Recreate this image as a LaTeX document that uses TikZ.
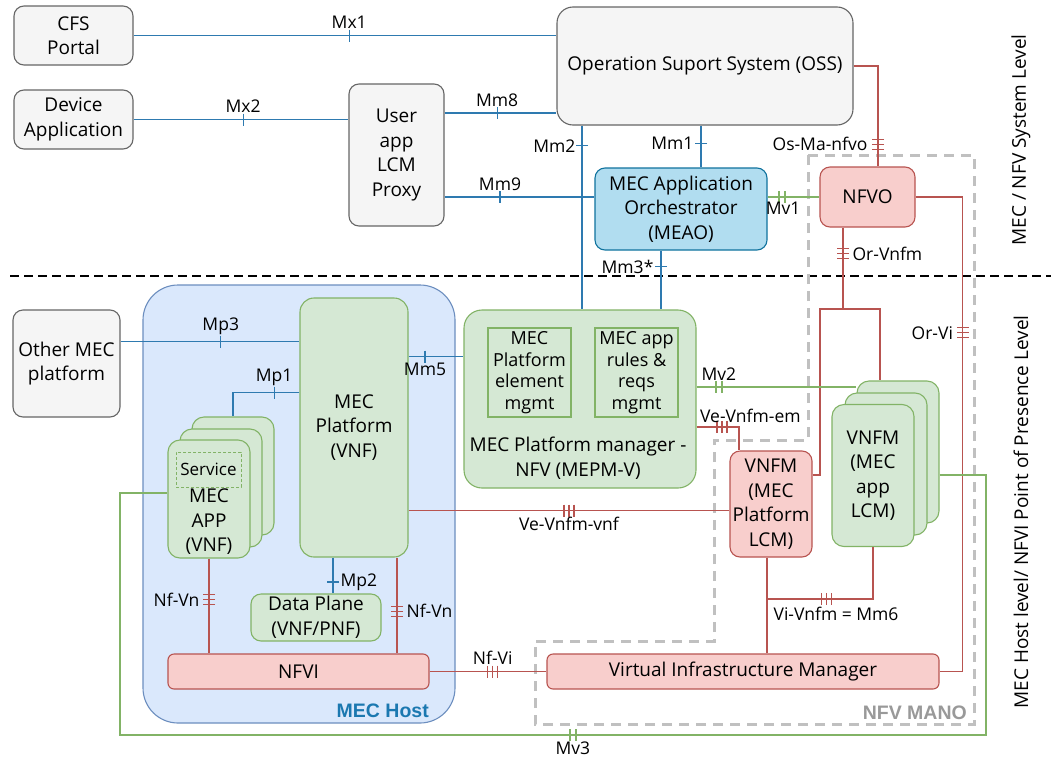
\documentclass[tikz,border=0pt]{standalone}
\usepackage{fontspec}
\setmainfont{Open Sans}
\newfontfamily\boldlabfont{Liberation Sans}

\definecolor{cGray}{HTML}{F5F5F5}
\definecolor{cGrayD}{HTML}{666666}
\definecolor{cBlue}{HTML}{2E7AB0}
\definecolor{cMeao}{HTML}{B1DDF0}
\definecolor{cMeaoD}{HTML}{10739E}
\definecolor{cHost}{HTML}{DAE8FC}
\definecolor{cHostD}{HTML}{6C8EBF}
\definecolor{cGreen}{HTML}{D5E8D4}
\definecolor{cGreenD}{HTML}{82B366}
\definecolor{cRed}{HTML}{F8CECC}
\definecolor{cRedD}{HTML}{B85450}
\definecolor{cMano}{HTML}{C0C0C0}
\definecolor{cManoT}{HTML}{999999}
\definecolor{cHostT}{HTML}{1B78B0}

\newcommand\mainfs{\fontsize{19}{24.5}\selectfont}
\newcommand\mgmtfs{\fontsize{18}{21.5}\selectfont}
\newcommand\labfs{\fontsize{17.5}{20}\selectfont}
\newcommand\areafs{\boldlabfont\bfseries\fontsize{19.5}{22}\selectfont}

\begin{document}
\begin{tikzpicture}[
  x=1pt, y=-1pt,
  box/.style={draw=cGrayD, fill=cGray, rounded corners=10pt, line width=1.1pt, align=center, inner sep=0pt, font=\mainfs},
  gbox/.style={box, draw=cGreenD, fill=cGreen},
  rbox/.style={box, draw=cRedD, fill=cRed},
  card/.style={gbox, rounded corners=12pt, minimum width=82pt},
  mgmtbox/.style={draw=cGreenD, line width=1.1pt, minimum width=83pt, minimum height=89pt, align=center, inner sep=0pt, font=\mgmtfs},
  svcbox/.style={draw=cGreenD, dash pattern=on 3pt off 2pt, line width=1pt, minimum width=65pt, minimum height=35pt, inner sep=0pt, font=\fontsize{17}{20}\selectfont},
  hostbox/.style={draw=cHostD, fill=cHost, rounded corners=35pt, line width=1.1pt, minimum width=312pt, minimum height=438pt},
  txt/.style={font=\mainfs, align=center, inner sep=0pt},
  bl/.style={draw=cBlue, line width=1.2pt},
  rd/.style={draw=cRedD, line width=1.2pt},
  gn/.style={draw=cGreenD, line width=1.2pt},
  lab/.style={font=\labfs, inner sep=1pt},
  bt/.style={sloped, draw=cBlue},
  rt/.style={sloped, draw=cRedD},
  gt/.style={sloped, draw=cGreenD},
  tk1/.pic={\draw[pic actions, line width=1.2pt] (0,-6) -- (0,6);},
  tk2/.pic={\draw[pic actions, line width=1.2pt] (-3,-6) -- (-3,6) (3,-6) -- (3,6);},
  tk3/.pic={\draw[pic actions, line width=1.2pt] (-5,-6) -- (-5,6) (0,-6) -- (0,6) (5,-6) -- (5,6);},
  levelsep/.style={draw=black, line width=2.2pt, dash pattern=on 9pt off 5pt},
  manoline/.style={draw=cMano, line width=3pt, dash pattern=on 10pt off 7pt}
]

% --- Canvas ---
\fill[white] (0,0) rectangle (1051,763);
\useasboundingbox (0,0) rectangle (1051,763);

% --- Level separator and NFV MANO area ---
\draw[levelsep] (10,276) -- (1051,276);
\draw[manoline] (808,155) -- (974,155) -- (974,724) -- (535,724) -- (535,641)
  -- (714,641) -- (714,440) -- (808,440) -- cycle;
\node[font=\areafs, text=cManoT, anchor=south east, inner sep=0pt] (manolab) at (967,720) {NFV MANO};

% --- MEC host ---
\node[hostbox] (host) at (299,504) {};
\node[font=\areafs, text=cHostT, anchor=south east, inner sep=0pt] (hostlab) at (429,718) {MEC Host};

% --- System level nodes ---
\node[box, minimum width=119pt, minimum height=59pt] (cfs) at (73.5,35.5) {CFS\\Portal};
\node[box, minimum width=119pt, minimum height=59pt] (dev) at (73.5,119.5) {Device\\Application};
\node[box, minimum width=95pt, minimum height=142pt] (proxy) at (396.5,155) {User\\app\\LCM\\Proxy};
\node[box, minimum width=296pt, minimum height=118pt, rounded corners=16pt] (oss) at (705,66) {Operation Suport System (OSS)};
\node[box, draw=cMeaoD, fill=cMeao, minimum width=172pt, minimum height=82pt] (meao) at (681,209) {MEC Application\\Orchestrator\\(MEAO)};
\node[rbox, minimum width=95pt, minimum height=60pt] (nfvo) at (867.5,197) {NFVO};

% --- Host level nodes ---
\node[box, minimum width=107pt, minimum height=107pt] (other) at (66.5,363.5) {Other MEC\\platform};
\node[gbox, rounded corners=14pt, minimum width=108pt, minimum height=259pt] (mecp) at (354,427.5) {MEC\\Platform\\(VNF)};
\node[card, minimum height=118pt] (appb) at (233,476) {};
\node[card, minimum height=118pt] (appm) at (221,488) {};
\node[card, minimum height=118pt] (appf) at (209,499) {};
\node[svcbox] (svc) at (208.5,469.5) {Service};
\node[txt] (apptxt) at (209,522) {MEC\\APP\\(VNF)};
\node[gbox, minimum width=130pt, minimum height=47pt] (dplane) at (316,617.5) {Data Plane\\(VNF/PNF)};
\node[rbox, rounded corners=6pt, minimum width=261pt, minimum height=35pt] (nfvi) at (298.5,671.5) {NFVI};

\node[gbox, rounded corners=18pt, minimum width=232pt, minimum height=178pt] (mepm) at (580,399) {};
\node[mgmtbox] (elem) at (529.5,372.5) {MEC\\Platform\\element\\mgmt};
\node[mgmtbox] (rules) at (636.5,372.5) {MEC app\\rules \&\\reqs\\mgmt};
\node[txt] (mepmtxt) at (578,458) {MEC Platform manager -\\NFV (MEPM-V)};

\node[rbox, minimum width=82pt, minimum height=106pt] (vnfmp) at (771,504) {VNFM\\(MEC\\Platform\\LCM)};
\node[card, minimum height=142pt] (vnfmab) at (898,452) {};
\node[card, minimum height=142pt] (vnfmam) at (886,464) {};
\node[card, minimum height=142pt] (vnfmaf) at (873,475.5) {VNFM\\(MEC\\app\\LCM)};
\node[rbox, rounded corners=6pt, minimum width=392pt, minimum height=35pt] (vim) at (743,671.5) {Virtual Infrastructure Manager};

% --- Level titles ---
\node[txt, rotate=90] (syslvl) at (1021,140) {MEC / NFV System Level};
\node[txt, rotate=90] (hostlvl) at (1021,512) {MEC Host level/ NFVI Point of Presence Level};

% --- Blue reference points ---
\draw[bl] (cfs.east) -- (cfs.east -| oss.west)
  pic[pos=.51, bt]{tk1} node[lab, pos=.51, above=5pt]{Mx1};
\draw[bl] (dev.east) -- (dev.east -| proxy.west)
  pic[pos=.51, bt]{tk1} node[lab, pos=.51, above=5pt]{Mx2};
\draw[bl] ([yshift=42pt]proxy.east) -- ([yshift=42pt]proxy.east -| oss.west)
  pic[pos=.47, bt]{tk1} node[lab, pos=.47, above=5pt]{Mm8};
\draw[bl] ([yshift=-42pt]proxy.east) -- ([yshift=-42pt]proxy.east -| meao.west)
  pic[pos=.37, bt]{tk1} node[lab, pos=.37, above=5pt]{Mm9};
\draw[bl] ([xshift=-123pt]oss.south) -- ([xshift=-123pt]oss.south |- mepm.north)
  pic[pos=.11, bt]{tk1} node[lab, pos=.11, left=5pt]{Mm2};
\draw[bl] ([xshift=-4pt]oss.south) -- ([xshift=-4pt]oss.south |- meao.north)
  pic[pos=.42, bt]{tk1} node[lab, pos=.42, left=6pt]{Mm1};
\draw[bl] ([xshift=-20pt]meao.south) -- ([xshift=-20pt]meao.south |- mepm.north)
  pic[pos=.27, bt]{tk1} node[lab, pos=.27, left=6pt]{Mm3*};
\draw[bl] ([yshift=22pt]other.east) -- ([yshift=22pt]other.east -| mecp.west)
  pic[pos=.56, bt]{tk1} node[lab, pos=.56, above=5pt]{Mp3};
\draw[bl] ([yshift=71pt]mecp.east) -- ([yshift=71pt]mecp.east -| mepm.west)
  pic[pos=.3, bt]{tk1} node[lab, pos=.3, below=5pt]{Mm5};
\draw[bl] ([yshift=35pt]mecp.west) -| (appb.north)
  pic[pos=.19, bt]{tk1} node[lab, pos=.19, above=5pt]{Mp1};
\draw[bl] ([xshift=-21pt]mecp.south) -- ([xshift=-21pt]mecp.south |- dplane.north)
  pic[pos=.68, bt]{tk1} node[lab, pos=.68, right=6pt]{Mp2};

% --- Red reference points ---
\coordinate (orl) at (820,309);
\coordinate (orr) at (880,309);
\coordinate (vij) at (767,599);
\draw[rd] (oss.east) -| ([xshift=10.5pt]nfvo.north)
  pic[pos=.89, rt]{tk3} node[lab, pos=.89, left=9pt]{Os-Ma-nfvo};
\draw[rd] ([xshift=-24.5pt]nfvo.south) -- ([xshift=-24.5pt]nfvo.south |- orl)
  pic[pos=.32, rt]{tk3} node[lab, pos=.32, right=8pt]{Or-Vnfm};
\draw[rd] ([yshift=29pt]vnfmp.east) -| (orl) -- (orr) -- (orr |- vnfmab.north);
\draw[rd] (nfvo.east) -- ++(47,0) |- (vim.east)
  pic[pos=.143, rt]{tk3} node[lab, pos=.143, left=8pt]{Or-Vi};
\draw[rd] ([yshift=-28pt]mepm.east) -| ([xshift=-32pt]vnfmp.north)
  pic[pos=.3, rt]{tk3} node[lab, pos=0, anchor=south west, xshift=2pt, yshift=3pt]{Ve-Vnfm-em};
\draw[rd] ([yshift=-83pt]mecp.east) -- ([yshift=-83pt]mecp.east -| vnfmp.west)
  pic[pos=.5, rt]{tk3} node[lab, pos=.5, below=5pt]{Ve-Vnfm-vnf};
\draw[rd] ([xshift=-4pt]vnfmp.south) -- ([xshift=-4pt]vnfmp.south |- vim.north);
\draw[rd] (vnfmaf.south) |- (vij)
  pic[pos=.72, rt]{tk3} node[lab, pos=1, anchor=north west, xshift=5pt, yshift=-6pt]{Vi-Vnfm = Mm6};
\draw[rd] (nfvi.east) -- (vim.west)
  pic[pos=.54, rt]{tk3} node[lab, pos=.54, above=5pt]{Nf-Vi};
\draw[rd] (appf.south) -- (appf.south |- nfvi.north)
  pic[pos=.43, rt]{tk3} node[lab, pos=.43, left=8pt]{Nf-Vn};
\draw[rd] ([xshift=43pt]mecp.south) -- ([xshift=43pt]mecp.south |- nfvi.north)
  pic[pos=.56, rt]{tk3} node[lab, pos=.56, right=8pt]{Nf-Vn};

% --- Green reference points ---
\coordinate (mv3r) at (986,735);
\coordinate (mv3l) at (120,735);
\draw[gn] (meao.east |- nfvo.west) -- (nfvo.west)
  pic[pos=.28, gt]{tk2} node[lab, pos=.3, below=3pt]{Mv1};
\draw[gn] ([yshift=12pt]mepm.east) -- ([yshift=12pt]mepm.east -| vnfmab.west)
  pic[pos=.14, gt]{tk2} node[lab, pos=.14, above=5pt]{Mv2};
\draw[gn] ([yshift=-23pt]vnfmab.east) -| (mv3r) -- (mv3l)
  pic[pos=.477, gt]{tk2} node[lab, pos=.477, below=5pt]{Mv3}
  |- ([yshift=6pt]appf.west);

\end{tikzpicture}
\end{document}
